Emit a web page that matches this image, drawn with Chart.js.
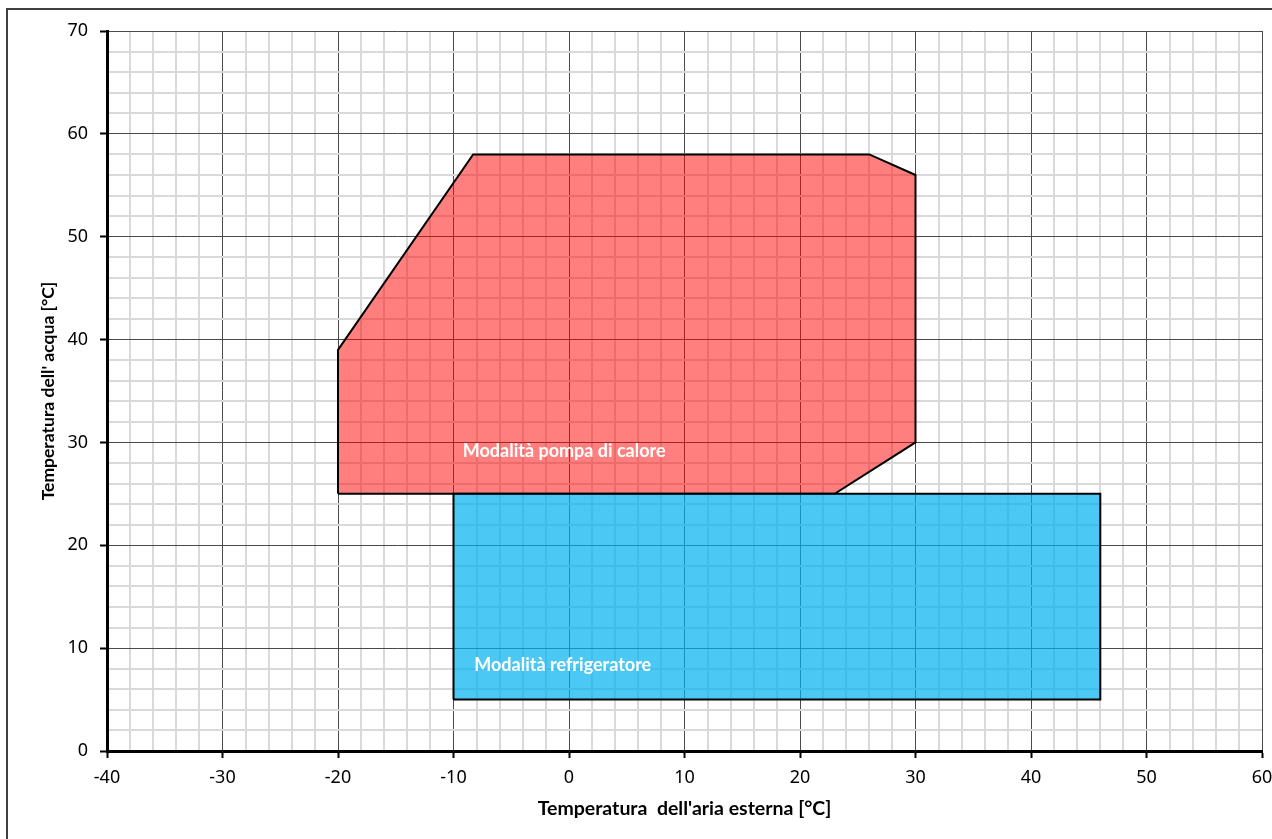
<!DOCTYPE html>
<html>
<head>
<meta charset="utf-8">
<title>Campo di funzionamento</title>
<script src="https://cdn.jsdelivr.net/npm/chart.js@4.4.0/dist/chart.umd.min.js"></script>
<style>
body{margin:0;background:#fff;overflow:hidden;}
#wrap{position:relative;width:1272px;height:839px;}
#frame{position:absolute;left:6px;top:8px;width:1300px;height:900px;border-left:2px solid #404040;border-top:2px solid #404040;pointer-events:none;}
</style>
</head>
<body>
<div id="wrap">
	<canvas id="mycanvas" width="1272" height="839"></canvas>
	<div id="frame"></div>
</div>
<script>
// assi
var xMin = -40, xMax = 60, xStep = 2;
var yMin = 0, yMax = 70, yStep = 2;

// modalita pompa di calore (poligono rosso)
var heatX = [-20, -20, -8.3, 26, 30, 30, 23, -20];
var heatY = [25, 39, 58, 58, 56, 30, 25, 25];

// modalita refrigeratore (rettangolo azzurro)
var coolX = [-10, -10, 46, 46, -10];
var coolY = [5, 25, 25, 5, 5];

// scritte dentro le aree
var labelText = ['Modalità pompa di calore', 'Modalità refrigeratore'];
var labelX = [-9.2, -8.2];
var labelY = [29.1, 8.3];

function pts(xs, ys) {
	var out = [];
	for (var i = 0; i < xs.length; i++) {
		out.push({x: xs[i], y: ys[i]});
	}
	return out;
}

function isMajor(v) {
	return Math.abs(v % 10) < 1e-6;
}

var tickFont = {family: "'Noto Sans', sans-serif", size: 18};
var titleFont = {family: "Lato, sans-serif", size: 19.5, weight: 'bold'};

function gridOpts() {
	return {
		color: function(c) { return c.tick && isMajor(c.tick.value) ? '#4a4a4a' : '#d9d9d9'; },
		lineWidth: function(c) { return c.tick && isMajor(c.tick.value) ? 1 : 2; },
		drawTicks: true,
		tickLength: 7,
		tickWidth: 2,
		tickColor: function(c) { return c.tick && isMajor(c.tick.value) ? '#000' : 'rgba(0,0,0,0)'; }
	};
}

// scritte bianche
var areaLabels = {
	id: 'areaLabels',
	afterDatasetsDraw: function(chart) {
		var c = chart.ctx, sx = chart.scales.x, sy = chart.scales.y;
		c.save();
		c.font = 'bold 18px Lato, sans-serif';
		c.fillStyle = '#ffffff';
		c.textAlign = 'left';
		c.textBaseline = 'middle';
		for (var i = 0; i < labelText.length; i++) {
			c.fillText(labelText[i], sx.getPixelForValue(labelX[i]), sy.getPixelForValue(labelY[i]));
		}
		c.restore();
	}
};

var ctx = document.getElementById('mycanvas');
var chart = new Chart(ctx, {
	type: 'line',
	data: {
		datasets: [
			{
				label: 'Modalità refrigeratore',
				data: pts(coolX, coolY),
				fill: 'shape',
				backgroundColor: 'rgba(0,176,240,0.7)',
				borderColor: '#000',
				borderWidth: 2,
				pointRadius: 0,
				tension: 0
			},
			{
				label: 'Modalità pompa di calore',
				data: pts(heatX, heatY),
				fill: 'shape',
				backgroundColor: 'rgba(255,0,0,0.5)',
				borderColor: '#000',
				borderWidth: 2,
				pointRadius: 0,
				tension: 0
			}
		]
	},
	options: {
		responsive: false,
		animation: false,
		events: [],
		layout: {padding: {left: 0, top: 31, right: 10, bottom: 0}},
		plugins: {legend: {display: false}, tooltip: {enabled: false}},
		scales: {
			x: {
				type: 'linear',
				position: 'bottom',
				min: xMin,
				max: xMax,
				ticks: {
					stepSize: xStep,
					autoSkip: false,
					maxRotation: 0,
					color: '#000',
					font: tickFont,
					padding: 9,
					callback: function(v) { return isMajor(v) ? String(v) : ''; }
				},
				grid: gridOpts(),
				border: {display: true, color: '#000', width: 3},
				title: {display: true, text: "Temperatura  dell'aria esterna [°C]", color: '#000', font: titleFont, padding: {top: 0, bottom: 19}},
				afterFit: function(s) { s.height = 88; s.paddingLeft = 0; s.paddingRight = 0; }
			},
			y: {
				type: 'linear',
				position: 'left',
				min: yMin,
				max: yMax,
				ticks: {
					stepSize: yStep,
					autoSkip: false,
					color: '#000',
					font: tickFont,
					padding: 12,
					callback: function(v) { return isMajor(v) ? String(v) : ''; }
				},
				grid: gridOpts(),
				border: {display: true, color: '#000', width: 3},
				title: {display: true, text: "Temperatura dell' acqua [°C]", color: '#000', font: {family: "Lato, sans-serif", size: 17.5, weight: 'bold'}, padding: {top: 38, bottom: 0}},
				afterFit: function(s) { s.width = 107; s.paddingTop = 0; s.paddingBottom = 0; }
			}
		}
	},
	plugins: [areaLabels]
});
</script>
</body>
</html>
